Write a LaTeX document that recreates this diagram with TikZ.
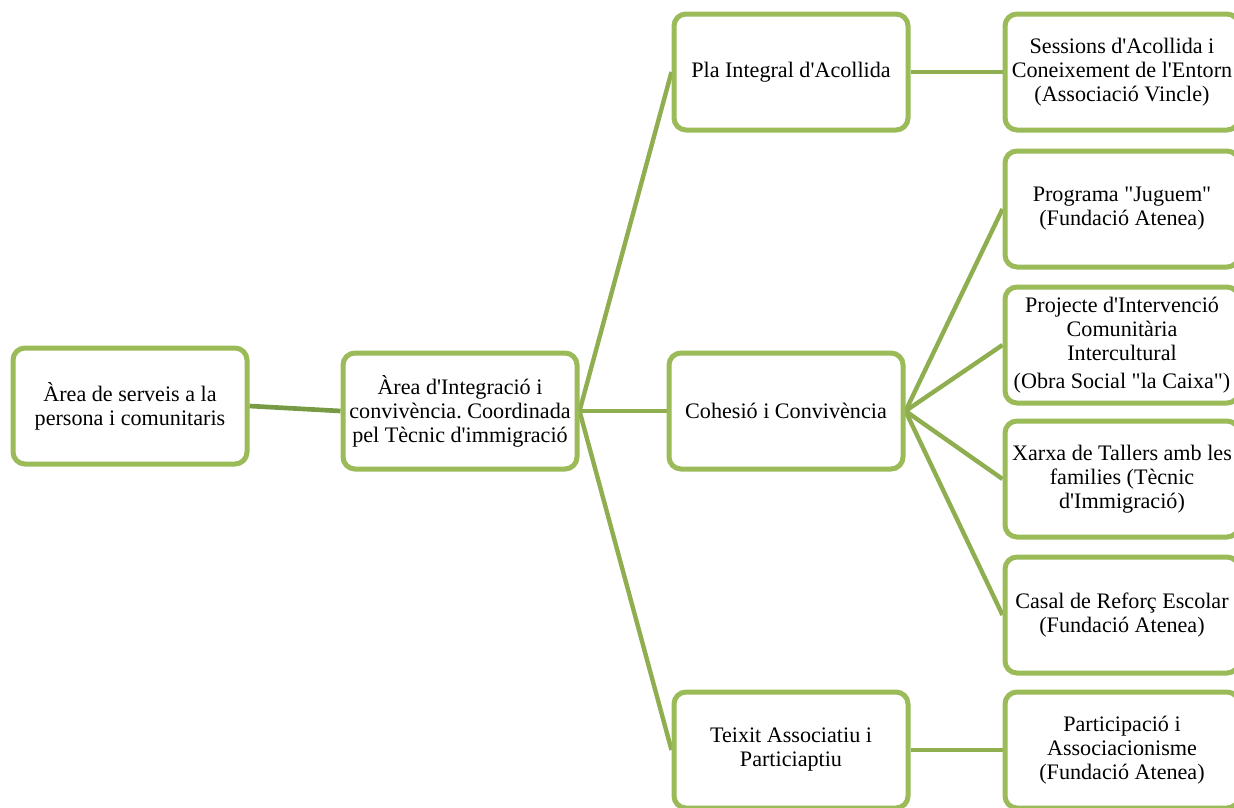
\documentclass[tikz,border=0pt]{standalone}
\usepackage{fontspec}
\setmainfont{Liberation Serif}[Ligatures=TeXOff]
\usetikzlibrary{backgrounds}
\definecolor{boxgreen}{HTML}{9BBB59}
\definecolor{linkgreen}{HTML}{8FAE50}
\definecolor{darklink}{HTML}{789A45}
\frenchspacing
\begin{document}
\begin{tikzpicture}[x=0.75pt,y=-0.75pt,
  box/.style={draw=boxgreen,line width=3.75pt,rounded corners=9pt,fill=white,
    minimum width=175.5pt,minimum height=87pt,align=center,inner sep=1pt,
    font=\fontsize{16.6}{18}\selectfont},
  link/.style={draw=linkgreen,line width=3.3pt},
  darkline/.style={draw=darklink,line width=3.5pt}]
\useasboundingbox (0,0) rectangle (1234,807);
\clip (0,0) rectangle (1234,807);
\node[box] (A) at (130,406) {Àrea de serveis a la\\persona i comunitaris};
\node[box] (B) at (460,411) {Àrea d'Integració i\\convivència. Coordinada\\pel Tècnic d'immigració};
\node[box] (C1) at (791,72) {Pla Integral d'Acollida};
\node[box] (C2) at (786,411) {Cohesió i Convivència};
\node[box] (C3) at (791,750) {Teixit Associatiu i\\Particiaptiu};
\node[box] (D1) at (1122,72) {Sessions d'Acollida i\\Coneixement de l'Entorn\\(Associació Vincle)};
\node[box] (D2) at (1122,209) {Programa "Juguem"\\(Fundació Atenea)};
\node[box] (D3) at (1122,345) {Projecte d'Intervenció\\Comunitària\\Intercultural\\[3pt](Obra Social "la Caixa")};
\node[box] (D4) at (1122,479) {Xarxa de Tallers amb les\\families (Tècnic\\d'Immigració)};
\node[box] (D5) at (1122,615) {Casal de Reforç Escolar\\(Fundació Atenea)};
\node[box] (D6) at (1122,750) {Participació i\\Associacionisme\\(Fundació Atenea)};
\begin{scope}[on background layer]
\draw[darkline] (A.east) -- (B.west);
\draw[link] (B.east) -- (C1.west);
\draw[link] (B.east) -- (C2.west);
\draw[link] (B.east) -- (C3.west);
\draw[link] (C1.east) -- (D1.west);
\draw[link] (C2.east) -- (D2.west);
\draw[link] (C2.east) -- (D3.west);
\draw[link] (C2.east) -- (D4.west);
\draw[link] (C2.east) -- (D5.west);
\draw[link] (C3.east) -- (D6.west);
\end{scope}
\end{tikzpicture}
\end{document}
